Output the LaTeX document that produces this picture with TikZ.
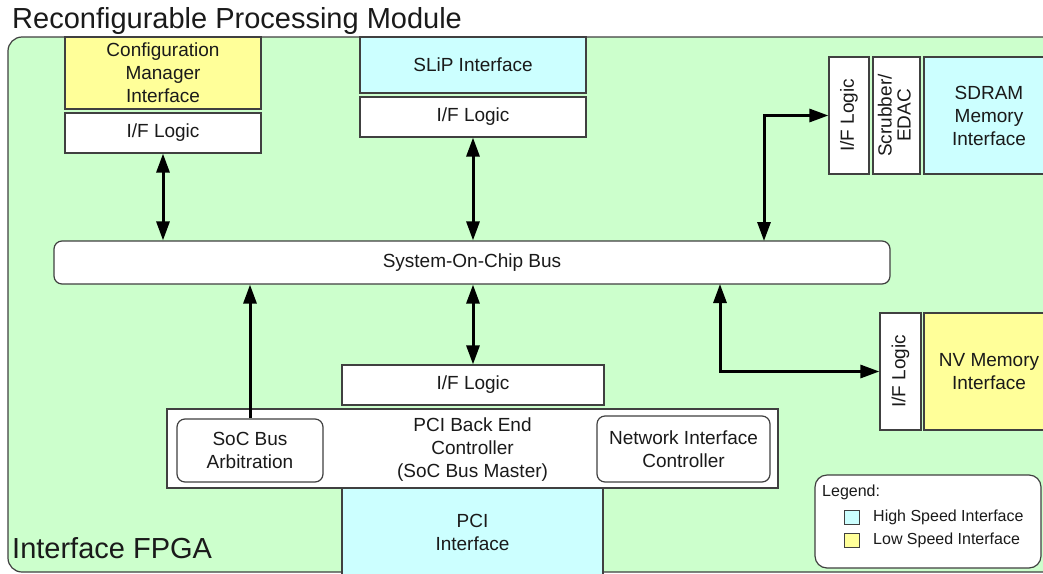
\documentclass[tikz,border=0pt]{standalone}
\usepackage{fontspec}
\setmainfont{Liberation Sans}
\usetikzlibrary{arrows.meta,calc}
\definecolor{fpgagreen}{HTML}{CCFFCC}
\definecolor{hispeed}{HTML}{CCFFFF}
\definecolor{lospeed}{HTML}{FFFF99}
\definecolor{edge}{HTML}{404040}
\definecolor{ink}{HTML}{1A1A1A}
\tikzset{
  blk/.style={draw=edge, line width=1.2pt, fill=white, inner sep=0pt, align=center,
    text=ink, font=\fontsize{19}{23}\selectfont},
  rblk/.style={blk, rounded corners=8pt},
  hs/.style={blk, fill=hispeed},
  ls/.style={blk, fill=lospeed},
  link/.style={line width=3pt, draw=black,
    {Triangle[length=19pt,width=13pt]}-{Triangle[length=19pt,width=13pt]}},
  uplink/.style={line width=3pt, draw=black, -{Triangle[length=19pt,width=13pt]}},
  swatch/.style={draw=edge, line width=1pt, inner sep=0pt, minimum width=15pt, minimum height=14pt},
  lgtext/.style={text=ink, font=\fontsize{16}{19}\selectfont, inner sep=0pt}
}
\begin{document}
\begin{tikzpicture}[x=1pt, y=-1pt]
\useasboundingbox (0,0) rectangle (1043,573);
\clip (0,0) rectangle (1043,573);
\fill[white] (0,0) rectangle (1043,573);

% FPGA area
\draw[fill=fpgagreen, draw=edge, line width=1.2pt, rounded corners=14pt] (8,37) rectangle (1080,572);
\node[anchor=base west, text=ink, font=\fontsize{29}{34}\selectfont, inner sep=0pt] (title) at (12,28) {Reconfigurable Processing Module};
\node[anchor=base west, text=ink, font=\fontsize{29}{34}\selectfont, inner sep=0pt] (fpga) at (12,558) {Interface FPGA};

% Configuration manager
\node[ls, minimum width=196pt, minimum height=72pt] (cfg) at (163,73) {Configuration\\Manager\\Interface};
\node[blk, minimum width=196pt, minimum height=40pt] (cfgif) at (163,133) {I/F Logic};

% SLiP
\node[hs, minimum width=226pt, minimum height=56pt] (slip) at (473,65) {SLiP Interface};
\node[blk, minimum width=226pt, minimum height=40pt] (slipif) at (473,117) {I/F Logic};

% SDRAM
\node[blk, minimum width=40pt, minimum height=117pt] (sdif) at (849,115.5) {\rotatebox{90}{I/F Logic}};
\node[blk, minimum width=47pt, minimum height=117pt] (scrub) at (896.5,115.5) {\rotatebox{90}{\begin{tabular}{@{}c@{}}Scrubber/\\[-4pt]EDAC\end{tabular}}};
\node[hs, minimum width=130pt, minimum height=117pt] (sdram) at (989,115.5) {SDRAM\\Memory\\Interface};

% System bus
\node[rblk, minimum width=836pt, minimum height=43pt] (bus) at (472,262.5) {System-On-Chip Bus};

% NV memory
\node[blk, minimum width=41pt, minimum height=117pt] (nvif) at (900.5,371.5) {\rotatebox{90}{I/F Logic}};
\node[ls, minimum width=130pt, minimum height=117pt] (nv) at (989,371.5) {NV Memory\\Interface};

% PCI side
\node[blk, minimum width=262pt, minimum height=40pt] (pciif) at (473,385) {I/F Logic};
\node[hs, minimum width=261pt, minimum height=130pt, anchor=north] (pci) at (472.5,488) {};
\node[text=ink, align=center, font=\fontsize{19}{23}\selectfont] (pcitxt) at (472.5,532) {PCI\\Interface};
\node[blk, minimum width=611pt, minimum height=79pt] (pcibe) at (472.5,448.5) {};
\node[text=ink, align=center, font=\fontsize{19}{23}\selectfont] (pcibetxt) at (472.5,450) {PCI Back End\\Controller\\(SoC Bus Master)};
\node[rblk, minimum width=146pt, minimum height=63pt] (arb) at (250,450.5) {SoC Bus\\Arbitration};
\node[rblk, minimum width=173pt, minimum height=66pt] (nic) at (683.5,449) {Network Interface\\Controller};

% Legend
\draw[fill=white, draw=edge, line width=1.2pt, rounded corners=12pt] (815,475) rectangle (1041,568);
\node[anchor=base west, lgtext] (legend) at (822,496) {Legend:};
\node[swatch, fill=hispeed] (swhs) at (851.5,517) {};
\node[swatch, fill=lospeed] (swls) at (851.5,540) {};
\node[anchor=west, lgtext] (lghs) at (873,517) {High Speed Interface};
\node[anchor=west, lgtext] (lgls) at (873,540) {Low Speed Interface};

% Connectors
\coordinate (sdtap) at (764,241);
\coordinate (nvtap) at (720,284);
\draw[link] (cfgif.south) -- (cfgif.south |- bus.north);
\draw[link] (slipif.south) -- (slipif.south |- bus.north);
\draw[link] (sdtap) |- (sdif.west);
\draw[link] (nvtap) |- (nvif.west);
\draw[link] (pciif.north) -- (pciif.north |- bus.south);
\draw[uplink] (arb.north) -- (arb.north |- bus.south);
\end{tikzpicture}
\end{document}
